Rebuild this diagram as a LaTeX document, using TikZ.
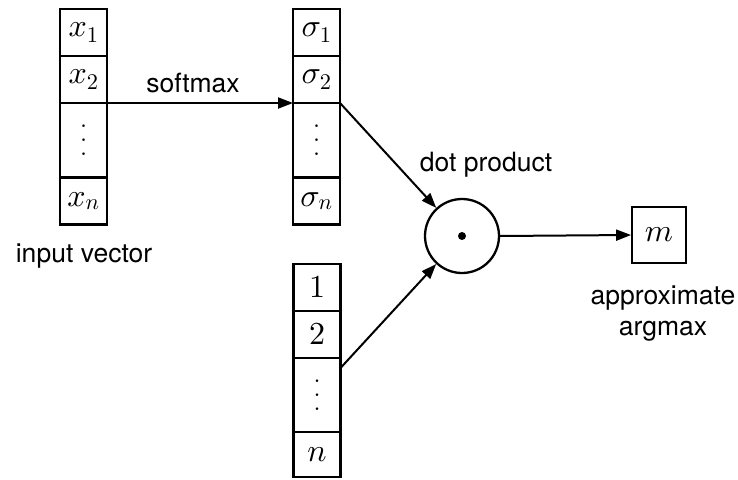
\documentclass[tikz,border=0pt]{standalone}
\usepackage{fontspec}
\setsansfont{TeX Gyre Heros}
\DeclareFontShape{OML}{cmm}{m}{it}{<->cmmi10}{}
\DeclareFontShape{OT1}{cmr}{m}{n}{<->cmr10}{}
\usetikzlibrary{arrows.meta}
\newcommand{\mathsz}{\fontsize{32}{36}\selectfont}
\newcommand{\lblsz}{\sffamily\fontsize{26.5}{31}\selectfont}
\newcommand{\bigvdots}{\vbox{\baselineskip=14pt\lineskiplimit=0pt\hbox{.}\hbox{.}\hbox{.}}}
\begin{document}
\begin{tikzpicture}[x=1pt,y=-1pt,
  cell/.style={draw, line width=2.6pt, inner sep=0pt, outer sep=0pt,
    minimum width=47pt, minimum height=47pt, font=\mathsz},
  dotcell/.style={cell, minimum height=75pt},
  lbl/.style={font=\lblsz, inner sep=0pt, anchor=base, align=center},
  arr/.style={line width=2pt, -{Triangle[length=15pt,width=11pt]}}]
\useasboundingbox (0,0) rectangle (738,479);
% input vector
\node[cell] (x1) at (83.5,32.5) {$x_1$};
\node[cell] (x2) at (83.5,79.5) {$x_2$};
\node[dotcell] (x3) at (83.5,140.5) {\bigvdots};
\node[cell] (xn) at (83.5,201) {$x_n$};
% softmax vector
\node[cell] (s1) at (316.5,32.5) {$\sigma_1$};
\node[cell] (s2) at (316.5,79.5) {$\sigma_2$};
\node[dotcell] (s3) at (316.5,140.5) {\bigvdots};
\node[cell] (sn) at (316.5,201) {$\sigma_n$};
% index vector
\node[cell] (b1) at (317,287.5) {$1$};
\node[cell] (b2) at (317,334.5) {$2$};
\node[dotcell, minimum height=74pt] (b3) at (317,395) {\bigvdots};
\node[cell, minimum height=45pt] (bn) at (317,454.5) {$n$};
% dot product
\node[circle, draw, line width=2.3pt, minimum size=74pt, inner sep=0pt] (dot) at (462,236) {};
\node[circle, fill, minimum size=8pt, inner sep=0pt] (dotc) at (dot.center) {};
% result
\node[draw, line width=1.9pt, inner sep=0pt, minimum width=54pt, minimum height=56pt, font=\mathsz] (m) at (659,235) {$m$};
% labels
\node[lbl] (lsoft) at (193,92) {softmax};
\node[lbl] (linput) at (84,262) {input vector};
\node[lbl] (ldot) at (486,171) {dot product};
\node[lbl] (lapprox) at (663,304) {approximate};
\node[lbl] (largmax) at (663,335) {argmax};
% connectors
\coordinate (bs) at ([yshift=-10pt]b3.north east);
\draw[arr] (x2.south east) -- (s2.south west);
\draw[arr] (s2.south east) -- (dot);
\draw[arr] (bs) -- (dot);
\draw[arr] (dot.east) -- (m.west);
\end{tikzpicture}
\end{document}
